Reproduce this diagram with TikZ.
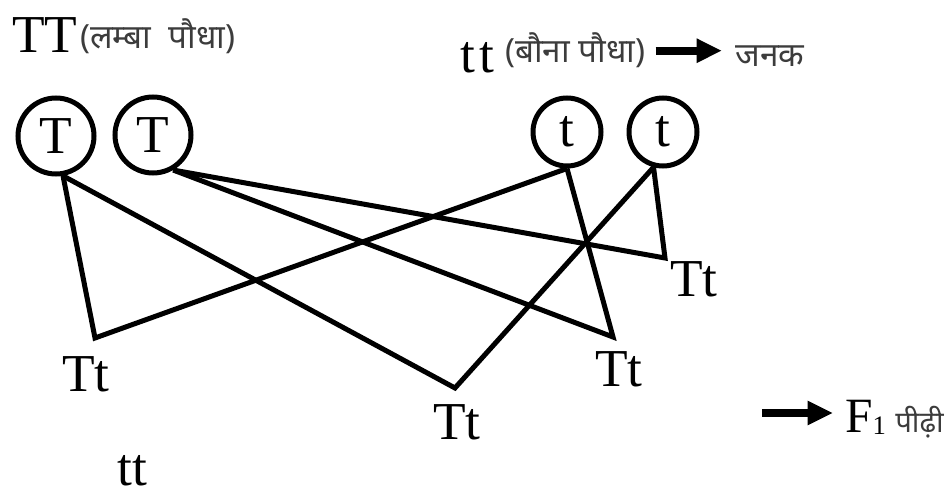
\documentclass[tikz,border=0pt]{standalone}
\usepackage{fontspec}
\setmainfont{Liberation Serif}
\newfontfamily\hindifont[Script=Devanagari]{Noto Sans}
\usetikzlibrary{arrows.meta}
\definecolor{crossink}{HTML}{000000}
\definecolor{crossgrey}{HTML}{3C3C3C}

\begin{document}
\begin{tikzpicture}[x=.75pt,y=-.75pt,
    bigallele/.style={circle,draw=crossink,line width=3.75pt,inner sep=0pt,
      minimum size=57pt,font=\fontsize{40}{42}\selectfont},
    smallallele/.style={circle,draw=crossink,line width=3.75pt,inner sep=0pt,
      minimum size=51pt,font=\fontsize{40}{42}\selectfont},
    gene/.style={anchor=base west,inner sep=0pt,text=crossink,
      font=\fontsize{40}{42}\selectfont},
    hindi/.style={anchor=base west,inner sep=0pt,text=crossgrey,
      font=\hindifont\fontsize{25}{27}\selectfont},
    cross/.style={crossink,line width=3.75pt},
    pointer/.style={crossink,line width=6pt,-{Triangle[length=19pt,width=17pt]}}]
    \useasboundingbox (0,0) rectangle (951,495);
    % parents
    \node[gene] (tallpair) at (12,53) {TT};
    \node[hindi] (tall) at (80,49) {(लम्बा\ \ पौधा)};
    \node[gene] (dwarfpair) at (460,73) {t\kern3pt t};
    \node[hindi] (dwarf) at (505,63) {(बौना पौधा)};
    \node[hindi] (parent) at (735,67) {जनक};
    \draw[pointer,shorten <=7.5pt,shorten >=9.75pt] (dwarf.east) -- (dwarf.east -| parent.west);
    % gametes
    \node[bigallele] (T1) at (56,136) {T};
    \node[bigallele] (T2) at (153,135) {T};
    \node[smallallele] (t1) at (567,132) {t};
    \node[smallallele] (t2) at (663,132) {t};
    % F1 offspring
    \coordinate (v1) at (95,338);
    \coordinate (v2) at (613,337);
    \coordinate (v3) at (455,388);
    \coordinate (v4) at (665,258);
    \draw[cross] (T1.-80) -- (v1) -- (t1.south);
    \draw[cross] (T1.-80) -- (v3) -- (t2.-105);
    \draw[cross] (T2.-60) -- (v2) -- (t1.south);
    \draw[cross] (T2.-60) -- (v4) -- (t2.-105);
    \node[gene] (f1a) at (62,392) {Tt};
    \node[gene] (f1b) at (595,387) {Tt};
    \node[gene] (f1c) at (433,440) {Tt};
    \node[gene] (f1d) at (670,297) {Tt};
    \node[gene] (recessive) at (117,486) {tt};
    % generation marker
    \coordinate (gen) at (762,413);
    \node[gene,font=\fontsize{37}{40}\selectfont] (fone) at (845,433)
      {F\raisebox{-1.5pt}{\fontsize{20}{22}\selectfont 1}};
    \node[hindi,font=\hindifont\fontsize{22}{24}\selectfont] (filial) at (895,433) {पीढ़ी};
    \draw[pointer,shorten >=9pt] (gen) -- (gen -| fone.west);
  \end{tikzpicture}
\end{document}
